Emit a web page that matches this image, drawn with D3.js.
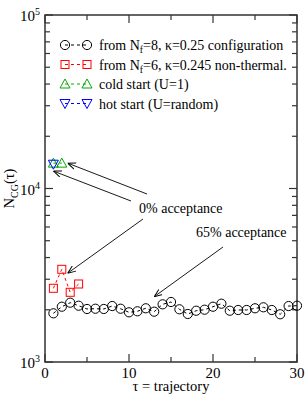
<!DOCTYPE html>
<html lang="en">
<head>
<meta charset="utf-8">
<script src="https://cdn.jsdelivr.net/npm/d3@7"></script>
<style>
  body { margin: 0; background: #fff; }
  svg { display: block; font-family: "Liberation Serif", "DejaVu Serif", serif; }
</style>
</head>
<body>
<div id="chart"></div>
<script>
"use strict";

// N_CG per trajectory
const tauNf8 = d3.range(1, 31);
const ncgNf8 = [1908, 2083, 2197, 2111, 2021, 2028, 2021, 2102, 2028, 1934,
                1960, 2040, 1950, 2150, 2218, 2013, 1891, 1975, 2002, 2083,
                2168, 1975, 1994, 1994, 2040, 2067, 1994, 1884, 2102, 2111];
const tauNf6 = [1, 2, 3, 4];
const ncgNf6 = [2660, 3422, 2522, 2816];
const tauCold = [1, 2];
const ncgCold = [14000, 14000];
const tauHot = [1];
const ncgHot = [13800];

const xTicks = [0, 10, 20, 30];
const yTicks = [1e3, 1e4, 1e5];

const W = 306, H = 396;
const m = {left: 45, right: 9, top: 15, bottom: 34};

const svg = d3.select("#chart").append("svg").attr("width", W).attr("height", H);

const x = d3.scaleLinear().domain([0, 30]).range([m.left, W - m.right]);
const y = d3.scaleLog().domain([1e3, 1e5]).range([H - m.bottom, m.top]);

// frame
svg.append("rect")
  .attr("x", x(0)).attr("y", y(1e5))
  .attr("width", x(30) - x(0)).attr("height", y(1e3) - y(1e5))
  .attr("fill", "none").attr("stroke", "#333").attr("stroke-width", 1.5);

// ticks, inward on all four sides
const minorY = [];
[1e3, 1e4].forEach(d => { for (let k = 2; k <= 9; k++) minorY.push(d * k); });
const minorX = [5, 15, 25];

const tk = svg.append("g").attr("stroke", "#333").attr("stroke-width", 1.2);
yTicks.forEach(v => {
  tk.append("line").attr("x1", x(0)).attr("x2", x(0) + 8).attr("y1", y(v)).attr("y2", y(v));
  tk.append("line").attr("x1", x(30)).attr("x2", x(30) - 8).attr("y1", y(v)).attr("y2", y(v));
});
minorY.forEach(v => {
  tk.append("line").attr("x1", x(0)).attr("x2", x(0) + 5).attr("y1", y(v)).attr("y2", y(v));
  tk.append("line").attr("x1", x(30)).attr("x2", x(30) - 5).attr("y1", y(v)).attr("y2", y(v));
});
xTicks.forEach(v => {
  tk.append("line").attr("x1", x(v)).attr("x2", x(v)).attr("y1", y(1e3)).attr("y2", y(1e3) - 8);
  tk.append("line").attr("x1", x(v)).attr("x2", x(v)).attr("y1", y(1e5)).attr("y2", y(1e5) + 8);
});
minorX.forEach(v => {
  tk.append("line").attr("x1", x(v)).attr("x2", x(v)).attr("y1", y(1e3)).attr("y2", y(1e3) - 5);
  tk.append("line").attr("x1", x(v)).attr("x2", x(v)).attr("y1", y(1e5)).attr("y2", y(1e5) + 5);
});

// tick labels
svg.append("g").selectAll("text").data(xTicks).join("text")
  .attr("x", d => x(d)).attr("y", y(1e3) + 16)
  .attr("text-anchor", "middle").attr("font-size", 15)
  .text(d => d);

const yl = svg.append("g").selectAll("text").data(yTicks).join("text")
  .attr("x", x(0) - 5).attr("y", d => y(d) + 6)
  .attr("text-anchor", "end").attr("font-size", 15);
yl.append("tspan").text("10");
yl.append("tspan").attr("dy", -6).attr("font-size", 10).text(d => Math.round(Math.log10(d)));

// axis titles
svg.append("text").attr("x", (x(0) + x(30)) / 2).attr("y", H - 5)
  .attr("text-anchor", "middle").attr("font-size", 14.5).text("τ = trajectory");

const yt = svg.append("text")
  .attr("transform", `translate(14,${(y(1e3) + y(1e5)) / 2}) rotate(-90)`)
  .attr("text-anchor", "middle").attr("font-size", 14.5);
yt.append("tspan").text("N");
yt.append("tspan").attr("dy", 4).attr("font-size", 10).text("CG");
yt.append("tspan").attr("dy", -4).text("(τ)");

// series
const series = [
  {tau: tauNf8, v: ncgNf8, color: "#000", sym: "circle",
   label: ["from N", "f", "=8, κ=0.25 configuration"]},
  {tau: tauNf6, v: ncgNf6, color: "#f00", sym: "square",
   label: ["from N", "f", "=6, κ=0.245 non-thermal."]},
  {tau: tauCold, v: ncgCold, color: "#0a0", sym: "triangle",
   label: ["cold start (U=1)"]},
  {tau: tauHot, v: ncgHot, color: "#00f", sym: "down",
   label: ["hot start (U=random)"]}
];

function drawSym(g, sym, cx, cy, color) {
  if (sym === "circle") {
    g.append("circle").attr("cx", cx).attr("cy", cy).attr("r", 4.6)
      .attr("fill", "none").attr("stroke", color).attr("stroke-width", 1);
  } else if (sym === "square") {
    g.append("rect").attr("x", cx - 4).attr("y", cy - 4).attr("width", 8).attr("height", 8)
      .attr("fill", "none").attr("stroke", color).attr("stroke-width", 1);
  } else if (sym === "triangle") {
    g.append("path").attr("d", `M${cx},${cy - 5}L${cx + 5},${cy + 4}L${cx - 5},${cy + 4}Z`)
      .attr("fill", "none").attr("stroke", color).attr("stroke-width", 1);
  } else {
    g.append("path").attr("d", `M${cx},${cy + 5}L${cx + 5},${cy - 4}L${cx - 5},${cy - 4}Z`)
      .attr("fill", "none").attr("stroke", color).attr("stroke-width", 1);
  }
}

const line = d3.line().x(d => x(d[0])).y(d => y(d[1]));
series.forEach(s => {
  const pts = s.tau.map((t, i) => [t, s.v[i]]);
  const g = svg.append("g");
  g.append("path").attr("d", line(pts)).attr("fill", "none")
    .attr("stroke", s.color).attr("stroke-width", 1).attr("stroke-dasharray", "3,3");
  pts.forEach(p => drawSym(g, s.sym, x(p[0]), y(p[1]), s.color));
});

// legend
const leg = svg.append("g");
series.forEach((s, i) => {
  const ly = 45 + i * 19.5;
  leg.append("line").attr("x1", 65).attr("x2", 87).attr("y1", ly).attr("y2", ly)
    .attr("stroke", s.color).attr("stroke-dasharray", "3,3");
  drawSym(leg, s.sym, 65, ly, s.color);
  drawSym(leg, s.sym, 87, ly, s.color);
  const t = leg.append("text").attr("x", 99).attr("y", ly + 5).attr("font-size", 14);
  t.append("tspan").text(s.label[0]);
  if (s.label.length > 1) {
    t.append("tspan").attr("dy", 3).attr("font-size", 9.5).text(s.label[1]);
    t.append("tspan").attr("dy", -3).text(s.label[2]);
  }
});

// annotations
const defs = svg.append("defs");
defs.append("marker").attr("id", "ah").attr("viewBox", "0 0 10 10")
  .attr("refX", 10).attr("refY", 5).attr("markerWidth", 8).attr("markerHeight", 8)
  .attr("markerUnits", "userSpaceOnUse").attr("orient", "auto")
  .append("path").attr("d", "M0,1L10,5L0,9").attr("fill", "none").attr("stroke", "#000").attr("stroke-width", 1.2);

const arrows = [
  [[147, 194], [x(2.7), y(14000)]],
  [[131, 201], [x(1), y(12600)]],
  [[143, 219], [x(2.7), y(3250)]],
  [[223, 247], [x(13), y(2380)]]
];
arrows.forEach(a => {
  svg.append("line").attr("x1", a[0][0]).attr("y1", a[0][1]).attr("x2", a[1][0]).attr("y2", a[1][1])
    .attr("stroke", "#000").attr("stroke-width", 0.9).attr("marker-end", "url(#ah)");
});
svg.append("text").attr("x", 139).attr("y", 213).attr("font-size", 14).text("0% acceptance");
svg.append("text").attr("x", 196).attr("y", 237).attr("font-size", 14).text("65% acceptance");
</script>
</body>
</html>
